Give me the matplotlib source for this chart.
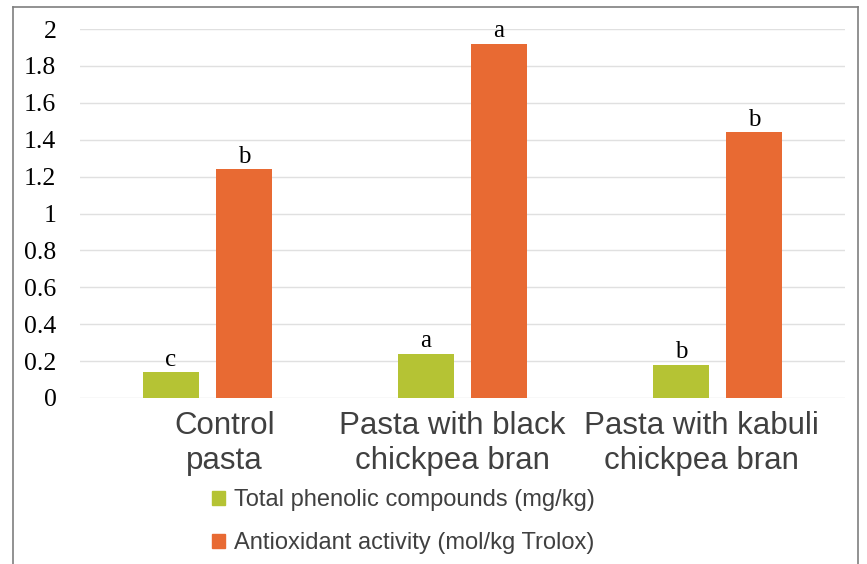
import matplotlib.pyplot as plt
import numpy as np
from matplotlib.patches import Patch
from matplotlib.lines import Line2D
from matplotlib.transforms import ScaledTranslation

categories = ["Control\npasta", "Pasta with black\nchickpea bran", "Pasta with kabuli\nchickpea bran"]
phenolic = [0.14, 0.24, 0.18]
antioxidant = [1.24, 1.92, 1.44]
phenolic_letters = ["c", "a", "b"]
antioxidant_letters = ["b", "a", "b"]
series_names = ["Total phenolic compounds (mg/kg)", "Antioxidant activity (mol/kg Trolox)"]
yticks = [0, 0.2, 0.4, 0.6, 0.8, 1, 1.2, 1.4, 1.6, 1.8, 2]
ytick_labels = ["0", "0.2", "0.4", "0.6", "0.8", "1", "1.2", "1.4", "1.6", "1.8", "2"]

green = "#b5c334"
orange = "#e86a33"

fig = plt.figure(figsize=(8.67, 5.64), dpi=100)
ax = fig.add_axes([80/867, 1-398/564, 765/867, 369/564])

x = np.arange(len(categories))
w = 0.22
off = 0.143
ax.bar(x - off, phenolic, w, color=green, zorder=3)
ax.bar(x + off, antioxidant, w, color=orange, zorder=3)

for xi, v, t in zip(x, phenolic, phenolic_letters):
    ax.text(xi - off, v + 0.008, t, ha="center", va="bottom", family="Liberation Serif", fontsize=18)
for xi, v, t in zip(x, antioxidant, antioxidant_letters):
    ax.text(xi + off, v + 0.008, t, ha="center", va="bottom", family="Liberation Serif", fontsize=18)

ax.set_xlim(-0.5, 2.5)
ax.set_ylim(0, 2)
ax.set_yticks(yticks)
ax.set_yticklabels(ytick_labels, family="Liberation Serif", fontsize=18.5)
ax.set_xticks(x)
ax.set_xticklabels(categories, family="Liberation Sans", fontsize=22.5, color="#404040", linespacing=1.24)
ax.tick_params(axis="both", length=0)
ax.tick_params(axis="y", pad=17)
ax.tick_params(axis="x", pad=9)
# shift category labels slightly, as in the original layout
shifts = [0.17, -0.10, -0.16]
for lab, dx in zip(ax.get_xticklabels(), shifts):
    lab.set_transform(lab.get_transform() + ScaledTranslation(dx, 0, fig.dpi_scale_trans))
for s in ax.spines.values():
    s.set_visible(False)
ax.grid(axis="y", color="#e0e0e0", linewidth=1, zorder=0)

handles = [Patch(color=green), Patch(color=orange)]
fig.legend(handles, series_names, loc="upper left", bbox_to_anchor=(191/867, 1-468/564),
           frameon=False, prop={"family": "Liberation Sans", "size": 17},
           handlelength=0.55, handleheight=0.55, handletextpad=0.35, labelspacing=0.88,
           labelcolor="#404040")

# outer frame
fig.add_artist(Line2D([13/867, 13/867], [0, 1-7/564], color="#7f7f7f", lw=1.2))
fig.add_artist(Line2D([13/867, 858/867], [1-7/564, 1-7/564], color="#7f7f7f", lw=1.2))
fig.add_artist(Line2D([858/867, 858/867], [0, 1-7/564], color="#7f7f7f", lw=1.2))

fig.savefig("out.png", dpi=100)
